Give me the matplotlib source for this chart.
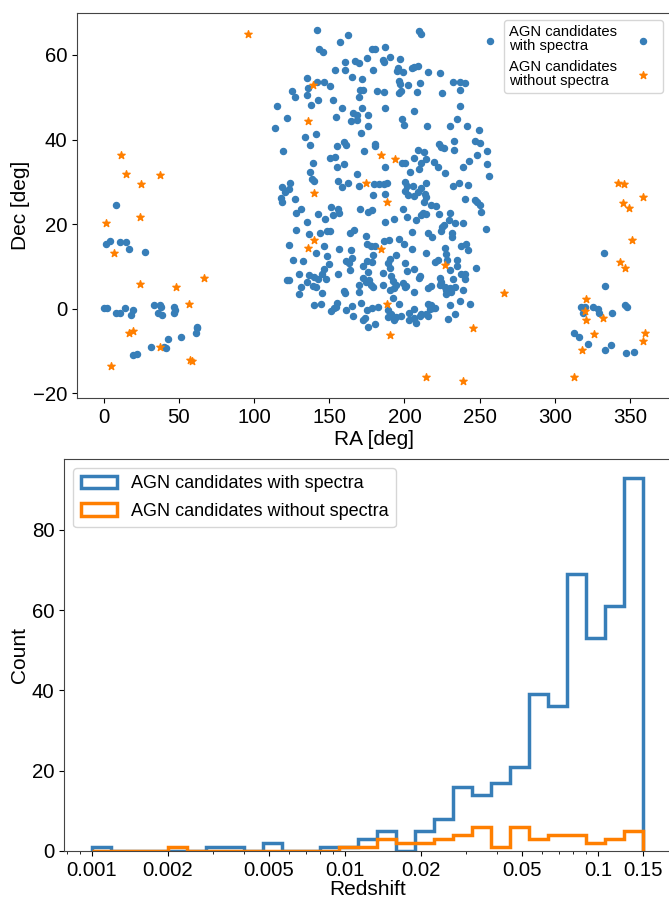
import matplotlib
matplotlib.use("Agg")
import matplotlib.pyplot as plt
import numpy as np
from matplotlib.ticker import FixedLocator, FixedFormatter

plt.rcParams["font.family"] = ["Liberation Sans", "DejaVu Sans"]

BLUE = "#377eb8"
ORANGE = "#ff7f00"

# sky positions of candidates with spectra (deg)
ra_spec = [
    141.8, 162.2, 157.3, 143.3, 146.0, 178.2, 180.4, 160.4, 166.9, 170.0,
    175.1, 153.5, 160.2, 178.9, 164.9, 171.8, 135.1, 141.8, 146.2, 135.8,
    150.7, 124.9, 127.5, 135.1, 142.2, 152.2, 170.2, 172.2, 181.5, 170.0,
    115.3, 138.0, 158.4, 171.8, 121.8, 154.4, 165.5, 168.4, 164.7, 168.4,
    175.5, 114.0, 175.8, 141.1, 133.8, 171.3, 136.9, 154.9, 159.8, 161.1,
    180.4, 180.4, 119.5, 172.9, 153.5, 150.4, 139.3, 160.0, 155.1,
    209.6, 211.2, 257.2, 187.4, 190.1, 185.6, 186.7, 197.2, 195.6, 195.2,
    198.9, 205.2, 206.7, 208.9, 215.6, 223.6, 196.3, 197.2, 202.3, 210.3,
    232.3, 236.9, 240.1, 186.3, 196.7, 197.8, 208.5, 224.7, 236.7, 187.2,
    206.3, 237.2, 198.3, 199.4, 215.2, 230.1, 235.2, 241.4, 249.6, 233.0,
    246.9, 250.5, 208.9, 212.7, 222.7, 224.1, 226.3, 233.0, 254.7, 206.7,
    214.1, 211.2, 198.5, 200.3, 187.0, 219.8, 209.4, 222.3, 238.7, 242.7,
    248.1, 255.2,
    137.3, 168.4, 138.2, 140.0, 156.0, 162.7, 158.2, 170.0, 179.5, 183.3,
    118.4, 123.8, 123.3, 120.7, 118.2, 118.4, 126.9, 179.1, 151.1, 155.5,
    156.2, 128.2, 131.5, 142.7, 147.3, 152.7, 170.4, 176.0, 178.4, 135.5,
    127.8, 136.7, 143.8, 148.4, 150.7, 163.5, 166.7, 174.4, 123.1, 146.2,
    175.3, 177.8, 180.4, 156.7, 164.2, 141.5, 148.4, 178.9, 126.2, 132.2,
    149.8, 161.1, 165.1, 163.3, 172.2, 174.9, 178.2, 146.7, 164.0, 175.8,
    130.0, 136.7, 140.0, 142.2, 145.3, 147.8, 155.5, 122.0, 123.3, 135.5,
    138.9, 141.1, 131.1, 172.2, 174.4, 177.8, 176.7, 179.3, 170.0, 130.0,
    144.9, 160.0, 160.7, 170.0, 140.0, 144.4, 151.1, 152.9, 155.1, 154.4,
    161.1, 164.9, 171.3, 165.8, 174.9, 178.2, 182.2, 174.0, 172.2, 180.7,
    176.0,
    203.8, 226.7, 256.3, 188.3, 186.3, 200.7, 201.8, 205.6, 210.7, 214.5,
    208.9, 200.1, 202.7, 206.7, 213.4, 214.1, 212.7, 232.3, 236.3, 242.3,
    187.4, 246.7, 248.3, 250.1, 251.2, 240.5, 217.8, 220.7, 199.0, 193.4,
    201.4, 207.8, 211.2, 212.3, 214.5, 222.9, 230.1, 229.6, 233.4, 238.9,
    187.4, 224.9, 226.1, 224.1, 204.9, 215.6, 218.3, 231.6, 231.8, 254.5,
    186.3, 189.6, 196.3, 199.6, 205.2, 214.5, 227.2, 227.4, 237.4, 240.7,
    242.3, 194.5, 190.5, 200.5, 189.0, 220.1, 222.3, 228.5, 235.2, 235.2,
    230.1, 190.1, 201.8, 206.1, 247.4, 185.6, 191.2, 192.3, 210.1, 209.4,
    223.4, 224.5, 232.3, 237.8, 240.1, 240.1, 185.6, 194.5, 198.9, 200.1,
    201.2, 190.1, 193.4, 215.6, 217.8, 223.4, 226.7, 227.8, 230.1, 231.2,
    233.8, 239.0, 206.7, 227.8, 237.2, 192.3, 196.7, 215.6, 217.8, 216.7,
    218.9, 211.2, 214.1, 220.1, 206.7, 230.3, 243.8, 233.8, 188.9, 191.2,
    194.5, 197.8, 202.9, 206.7, 210.1, 202.9, 207.8, 215.6, 228.9, 193.4,
    189.4,
    7.8, 1.3, 4.4, 11.1, 14.9, 16.7, 27.3, 0.0, 2.2, 7.8,
    10.7, 14.0, 19.3, 18.4, 33.3, 37.1, 37.8, 36.2, 38.9, 46.7,
    47.1, 46.7, 51.1, 42.9, 31.1, 40.0, 41.1, 19.5, 22.2, 61.1,
    62.2, 62.2,
    333.0, 333.4, 317.8, 320.1, 318.9, 325.2, 328.5, 329.4, 346.7, 348.3,
    338.3, 312.7, 316.1, 322.3, 333.6, 337.2, 347.2, 353.0,
]
dec_spec = [
    65.8, 64.8, 63.1, 61.5, 60.8, 61.3, 61.5, 58.3, 58.6, 58.2,
    59.3, 56.4, 56.4, 56.4, 54.8, 54.4, 54.5, 53.6, 53.6, 52.2,
    52.7, 51.4, 50.1, 50.5, 49.3, 49.3, 51.6, 51.6, 51.4, 50.0,
    47.9, 48.1, 47.5, 47.5, 45.2, 45.3, 46.3, 45.7, 44.3, 44.7,
    45.7, 42.7, 43.1, 41.4, 40.5, 41.6, 38.7, 38.5, 39.3, 38.6,
    39.0, 38.4, 37.2, 37.3, 35.9, 35.6, 34.5, 34.1, 33.4,
    65.6, 65.0, 63.3, 61.9, 59.5, 58.7, 58.3, 59.1, 56.8, 56.1,
    56.0, 56.8, 57.1, 57.5, 55.9, 55.8, 53.8, 53.2, 53.0, 53.4,
    53.6, 53.6, 53.3, 51.2, 51.0, 51.4, 51.2, 51.0, 51.7, 47.5,
    46.8, 47.9, 44.8, 43.4, 43.2, 43.3, 44.8, 43.1, 42.3, 39.6,
    39.7, 39.2, 37.6, 37.1, 38.9, 38.3, 37.9, 37.6, 37.3, 35.7,
    35.5, 34.5, 34.5, 34.5, 33.5, 34.6, 33.1, 33.4, 33.5, 34.9,
    36.4, 34.3,
    32.4, 31.8, 30.6, 30.2, 30.2, 29.8, 28.8, 29.0, 29.4, 29.4,
    28.7, 29.6, 28.3, 27.5, 26.2, 25.3, 25.9, 26.8, 24.1, 23.6,
    22.7, 22.7, 23.5, 22.4, 21.2, 22.1, 23.5, 22.8, 23.3, 20.5,
    18.6, 17.6, 17.9, 18.4, 18.3, 18.0, 18.7, 17.2, 15.1, 14.9,
    15.4, 14.8, 14.9, 14.0, 13.9, 13.1, 12.5, 12.8, 11.6, 11.3,
    10.5, 11.3, 12.0, 10.7, 10.2, 11.3, 11.1, 9.4, 9.1, 8.7,
    8.3, 7.9, 7.4, 7.1, 8.1, 6.9, 8.3, 6.7, 6.7, 6.2,
    5.4, 5.0, 5.2, 7.2, 6.4, 5.7, 6.8, 5.2, 5.6, 3.5,
    3.8, 4.2, 3.8, 3.9, 0.9, 1.0, -0.5, 0.2, 1.3, 0.4,
    -0.3, 0.6, 1.3, -1.7, -0.3, 0.1, 0.5, -2.1, -2.8, -3.7,
    -4.3,
    32.4, 32.0, 31.3, 29.8, 29.4, 30.0, 29.0, 29.0, 28.6, 29.6,
    27.5, 27.8, 26.8, 26.6, 27.1, 26.3, 25.3, 29.0, 29.8, 29.2,
    27.0, 25.8, 25.3, 24.5, 22.8, 25.9, 24.6, 24.3, 23.5, 21.2,
    21.6, 21.0, 22.1, 22.5, 22.3, 22.4, 22.7, 20.9, 20.3, 20.2,
    20.4, 19.4, 19.8, 18.4, 18.2, 17.8, 17.0, 17.9, 17.0, 18.8,
    16.0, 16.2, 16.4, 15.3, 14.2, 13.1, 14.3, 12.9, 14.8, 15.3,
    13.9, 12.7, 11.7, 10.9, 10.7, 11.1, 11.5, 11.5, 11.5, 10.1,
    9.1, 9.5, 8.9, 9.4, 9.7, 8.5, 7.6, 6.6, 7.7, 7.2,
    7.2, 6.4, 6.9, 8.3, 8.3, 6.9, 5.6, 5.6, 6.0, 5.2,
    5.4, 4.4, 4.8, 4.8, 5.4, 5.6, 5.2, 4.4, 4.8, 3.9,
    5.2, 4.4, 3.9, 3.5, 1.8, 2.4, 1.2, 1.2, 0.9, -0.2,
    0.2, -1.3, -1.3, 0.1, -0.2, 0.9, 1.0, -1.3, -0.3, -1.3,
    -1.9, -1.7, -1.1, -2.3, -1.7, -2.8, -3.3, -1.7, -2.5, -2.7,
    -1.9,
    24.4, 15.4, 15.9, 15.8, 15.8, 14.1, 13.3, 0.1, 0.2, -1.1,
    -1.1, 0.1, -0.3, -1.6, 0.9, 0.9, 0.3, -1.0, -1.5, 0.5,
    -0.3, -1.1, -6.8, -7.1, -9.1, -9.0, -9.4, -10.9, -10.7, -5.8,
    -4.3, -4.6,
    13.2, 5.4, 0.5, 0.3, -1.1, 0.5, -0.2, -1.1, 0.9, 0.3,
    -1.1, -5.8, -6.8, -8.3, -9.8, -8.7, -10.5, -10.2,
]

# sky positions of candidates without spectra (deg)
ra_nospec = [
    1.3, 24.4, 6.9, 24.4, 48.2, 66.7, 56.9, 17.1, 19.5, 37.3,
    57.1, 58.4, 4.9, 11.3, 14.7, 24.7, 37.1, 95.8,
    139.3, 135.6, 139.6, 139.8, 135.8, 174.5, 184.5, 194.0, 188.3, 184.5,
    226.7, 188.3, 190.7, 266.3, 245.6, 214.5, 238.9,
    345.6, 349.6, 351.1, 343.3, 346.7, 320.7, 320.0, 320.7, 331.8, 326.0,
    360.0, 358.5, 318.3, 312.5, 341.8, 346.0, 358.9,
]
dec_nospec = [
    20.2, 21.7, 13.2, 5.8, 5.0, 7.2, 1.0, -5.7, -5.3, -9.1,
    -12.1, -12.5, -13.5, 36.4, 31.8, 29.4, 31.6, 64.9,
    53.0, 44.4, 27.4, 16.3, 14.3, 29.8, 36.4, 35.5, 25.3, 14.1,
    10.3, 1.2, -6.2, 3.8, -4.6, -16.1, -17.0,
    24.9, 23.9, 16.2, 11.0, 9.5, 2.2, -0.5, -2.8, -2.3, -5.9,
    -5.8, -7.6, -9.8, -16.1, 29.8, 29.4, 26.3,
]

# redshift histogram, 29 log-spaced bins between 0.001 and 0.15
z_edges = np.logspace(np.log10(0.001), np.log10(0.15), 30)
counts_spec = [1, 0, 0, 0, 0, 0, 1, 1, 0, 2, 0, 0, 1, 1, 3, 5, 0, 5, 8, 16,
               14, 17, 21, 39, 36, 69, 53, 61, 93]
counts_nospec = [0, 0, 0, 0, 1, 0, 0, 0, 0, 0, 0, 0, 0, 1, 1, 3, 2, 2, 3, 4,
                 6, 1, 6, 3, 4, 4, 2, 3, 5]
z_ticks = [0.001, 0.002, 0.005, 0.01, 0.02, 0.05, 0.1, 0.15]
z_ticklabels = ["0.001", "0.002", "0.005", "0.01", "0.02", "0.05", "0.1", "0.15"]

TICK_FS = 14.7
LABEL_FS = 15

fig = plt.figure(figsize=(6.69, 8.98), dpi=100)

# --- sky map ---
ax1 = fig.add_axes([0.1147, 0.5565, 0.8875, 0.4294])
ax1.scatter(ra_spec, dec_spec, s=19, color=BLUE, label="AGN candidates\nwith spectra")
ax1.scatter(ra_nospec, dec_nospec, s=30, marker="*", color=ORANGE,
            label="AGN candidates\nwithout spectra")
ax1.set_xlim(-18, 377)
ax1.set_ylim(-21.2, 70.0)
ax1.set_xticks([0, 50, 100, 150, 200, 250, 300, 350])
ax1.set_yticks([-20, 0, 20, 40, 60])
ax1.set_xlabel("RA [deg]", fontsize=LABEL_FS, labelpad=2)
ax1.set_ylabel("Dec [deg]", fontsize=LABEL_FS, labelpad=2)
ax1.tick_params(labelsize=TICK_FS)
leg1 = ax1.legend(loc="upper right", fontsize=10.6, markerfirst=False,
                  labelspacing=0.45, borderpad=0.35)
for t in leg1.get_texts():
    t.set_linespacing(1.0)

# --- redshift distribution ---
ax2 = fig.add_axes([0.0961, 0.0525, 0.9055, 0.4364])
ax2.hist(z_edges[:-1], bins=z_edges, weights=counts_spec, histtype="step",
         lw=2.5, color=BLUE, label="AGN candidates with spectra")
ax2.hist(z_edges[:-1], bins=z_edges, weights=counts_nospec, histtype="step",
         lw=2.5, color=ORANGE, label="AGN candidates without spectra")
ax2.set_xscale("log")
ax2.xaxis.set_major_locator(FixedLocator(z_ticks))
ax2.xaxis.set_major_formatter(FixedFormatter(z_ticklabels))
ax2.set_yticks([0, 20, 40, 60, 80])
ax2.set_xlabel("Redshift", fontsize=LABEL_FS, labelpad=0)
ax2.set_ylabel("Count", fontsize=LABEL_FS, labelpad=2)
ax2.tick_params(labelsize=TICK_FS)
ax2.legend(loc="upper left", fontsize=13, labelspacing=0.6)

for ax in (ax1, ax2):
    for sp in ax.spines.values():
        sp.set_color("#444444")

plt.savefig("out.png", dpi=100)
